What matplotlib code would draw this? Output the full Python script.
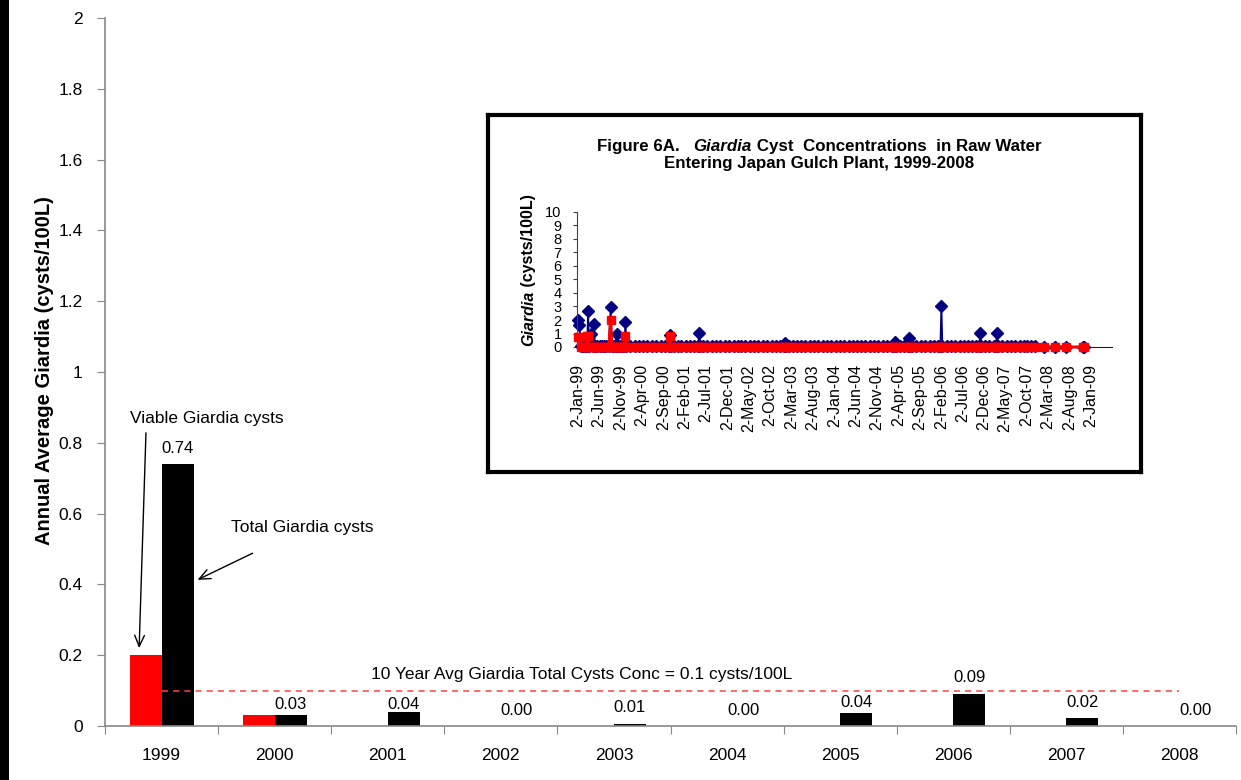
import matplotlib
matplotlib.use('Agg')
import matplotlib.pyplot as plt
import numpy as np
import pandas as pd
from matplotlib.patches import Rectangle

plt.rcParams['font.family'] = ['Liberation Sans', 'DejaVu Sans']

# ---------------- main chart data ----------------
years = ['1999', '2000', '2001', '2002', '2003', '2004', '2005', '2006', '2007', '2008']
viable = [0.20, 0.03, 0.0, 0.0, 0.0, 0.0, 0.0, 0.0, 0.0, 0.0]
total = [0.74, 0.03, 0.04, 0.0, 0.005, 0.0, 0.036, 0.09, 0.022, 0.0]
total_labels = ['0.74', '0.03', '0.04', '0.00', '0.01', '0.00', '0.04', '0.09', '0.02', '0.00']
avg_total = 0.1
y_ticks = [0, 0.2, 0.4, 0.6, 0.8, 1.0, 1.2, 1.4, 1.6, 1.8, 2.0]
y_tick_labels = ['0', '0.2', '0.4', '0.6', '0.8', '1', '1.2', '1.4', '1.6', '1.8', '2']

# ---------------- inset data (Figure 6A) ----------------
inset_dates = [
    # 1999
    '1999-01-04', '1999-01-11', '1999-01-25', '1999-02-08', '1999-02-22', '1999-03-08',
    '1999-03-15', '1999-03-22', '1999-04-05', '1999-04-19', '1999-04-26', '1999-05-03',
    '1999-05-17', '1999-06-07', '1999-06-21', '1999-07-05', '1999-07-19', '1999-08-09',
    '1999-08-23', '1999-08-30', '1999-09-13', '1999-09-27', '1999-10-04', '1999-10-11',
    '1999-10-25', '1999-11-08', '1999-11-22', '1999-11-29', '1999-12-06', '1999-12-13',
    # 2000
    '2000-01-10', '2000-02-14', '2000-03-13', '2000-04-10', '2000-05-08', '2000-06-12',
    '2000-07-10', '2000-08-14', '2000-09-11', '2000-10-09', '2000-10-16', '2000-10-23',
    '2000-11-13', '2000-12-11',
    # 2001
    '2001-01-08', '2001-02-12', '2001-03-12', '2001-04-09', '2001-05-07', '2001-05-14',
    '2001-05-21', '2001-06-11', '2001-07-09', '2001-08-13', '2001-09-10', '2001-10-08',
    '2001-11-12', '2001-12-10',
    # 2002
    '2002-01-14', '2002-02-11', '2002-03-11', '2002-04-08', '2002-05-13', '2002-06-10',
    '2002-07-08', '2002-08-12', '2002-09-09', '2002-10-14', '2002-11-11', '2002-12-09',
    # 2003
    '2003-01-06', '2003-01-13', '2003-01-20', '2003-02-10', '2003-03-10', '2003-04-14',
    '2003-05-12', '2003-06-09', '2003-07-14', '2003-08-11', '2003-09-08', '2003-10-13',
    '2003-11-10', '2003-12-08',
    # 2004
    '2004-01-12', '2004-02-09', '2004-03-08', '2004-04-12', '2004-05-10', '2004-06-14',
    '2004-07-12', '2004-08-09', '2004-09-13', '2004-10-11', '2004-11-08', '2004-12-13',
    # 2005
    '2005-01-10', '2005-02-14', '2005-02-28', '2005-03-07', '2005-03-14', '2005-04-11',
    '2005-05-09', '2005-06-06', '2005-06-13', '2005-06-20', '2005-07-11', '2005-08-08',
    '2005-09-12', '2005-10-10', '2005-11-14', '2005-12-12',
    # 2006
    '2006-01-09', '2006-01-26', '2006-02-02', '2006-02-09', '2006-03-13', '2006-04-10',
    '2006-05-08', '2006-06-12', '2006-07-10', '2006-08-14', '2006-09-11', '2006-10-09',
    '2006-10-30', '2006-11-06', '2006-11-13', '2006-12-11',
    # 2007
    '2007-01-08', '2007-02-12', '2007-02-26', '2007-03-05', '2007-03-12', '2007-04-09',
    '2007-05-14', '2007-06-11', '2007-07-09', '2007-08-13', '2007-09-10', '2007-10-08',
    '2007-11-05', '2007-12-03',
    # 2008
    '2008-02-04', '2008-04-21', '2008-07-07', '2008-11-03', '2008-11-17',
]
inset_total = [
    # 1999
    2.0, 1.6, 0.1, 0.1, 0.1, 0.1,
    2.65, 0.1, 1.0, 0.1, 1.7, 0.1,
    0.1, 0.1, 0.1, 0.1, 0.1, 0.1,
    2.95, 0.1, 0.1, 0.1, 1.0, 0.1,
    0.1, 0.1, 0.1, 0.1, 1.85, 0.1,
    # 2000
    0.1, 0.1, 0.1, 0.1, 0.1, 0.1,
    0.1, 0.1, 0.1, 0.1, 0.9, 0.1,
    0.1, 0.1,
    # 2001
    0.1, 0.1, 0.1, 0.1, 0.1, 1.05,
    0.1, 0.1, 0.1, 0.1, 0.1, 0.1,
    0.1, 0.1,
    # 2002
    0.1, 0.1, 0.1, 0.1, 0.1, 0.1,
    0.1, 0.1, 0.1, 0.1, 0.1, 0.1,
    # 2003
    0.1, 0.3, 0.1, 0.1, 0.1, 0.1,
    0.1, 0.1, 0.1, 0.1, 0.1, 0.1,
    0.1, 0.1,
    # 2004
    0.1, 0.1, 0.1, 0.1, 0.1, 0.1,
    0.1, 0.1, 0.1, 0.1, 0.1, 0.1,
    # 2005
    0.1, 0.1, 0.1, 0.35, 0.1, 0.1,
    0.1, 0.1, 0.7, 0.1, 0.1, 0.1,
    0.1, 0.1, 0.1, 0.1,
    # 2006
    0.1, 0.1, 3.05, 0.1, 0.1, 0.1,
    0.1, 0.1, 0.1, 0.1, 0.1, 0.1,
    0.1, 1.05, 0.1, 0.1,
    # 2007
    0.1, 0.1, 0.1, 1.05, 0.1, 0.1,
    0.1, 0.1, 0.1, 0.1, 0.1, 0.1,
    0.1, 0.1,
    # 2008
    0.0, 0.0, 0.0, 0.0, 0.0,
]
inset_viable = [
    # 1999
    0.75, 0.75, 0, 0, 0, 0.8,
    0.8, 0, 0, 0, 0, 0,
    0, 0, 0, 0, 0, 0,
    2.0, 0, 0, 0, 0, 0,
    0, 0, 0, 0, 0.85, 0,
    # 2000
    0, 0, 0, 0, 0, 0,
    0, 0, 0, 0, 0.85, 0,
    0, 0,
    # 2001
    0, 0, 0, 0, 0, 0,
    0, 0, 0, 0, 0, 0,
    0, 0,
    # 2002
    0, 0, 0, 0, 0, 0,
    0, 0, 0, 0, 0, 0,
    # 2003
    0, 0, 0, 0, 0, 0,
    0, 0, 0, 0, 0, 0,
    0, 0,
    # 2004
    0, 0, 0, 0, 0, 0,
    0, 0, 0, 0, 0, 0,
    # 2005
    0, 0, 0, 0, 0, 0,
    0, 0, 0, 0, 0, 0,
    0, 0, 0, 0,
    # 2006
    0, 0, 0, 0, 0, 0,
    0, 0, 0, 0, 0, 0,
    0, 0, 0, 0,
    # 2007
    0, 0, 0, 0, 0, 0,
    0, 0, 0, 0, 0, 0,
    0, 0,
    # 2008
    0, 0, 0, 0, 0,
]
inset_tick_labels = ['2-Jan-99', '2-Jun-99', '2-Nov-99', '2-Apr-00', '2-Sep-00', '2-Feb-01',
                     '2-Jul-01', '2-Dec-01', '2-May-02', '2-Oct-02', '2-Mar-03', '2-Aug-03',
                     '2-Jan-04', '2-Jun-04', '2-Nov-04', '2-Apr-05', '2-Sep-05', '2-Feb-06',
                     '2-Jul-06', '2-Dec-06', '2-May-07', '2-Oct-07', '2-Mar-08', '2-Aug-08',
                     '2-Jan-09']
inset_yticks = [0, 1, 2, 3, 4, 5, 6, 7, 8, 9, 10]

# ---------------- figure ----------------
W, H = 1241, 780
fig = plt.figure(figsize=(W / 100, H / 100), dpi=100)
fig.patch.set_facecolor('white')

# left page border
fig.add_artist(Rectangle((0, 0), 9 / W, 1, transform=fig.transFigure,
                         facecolor='black', edgecolor='none'))

ax = fig.add_axes([105 / W, 1 - 726 / H, (1236 - 105) / W, (726 - 18) / H])
x = np.arange(len(years))
bw = 0.283
ax.bar(x - bw / 2, viable, bw, color='#FF0000', edgecolor='none', zorder=2)
ax.bar(x + bw / 2, total, bw, color='#000000', edgecolor='none', zorder=2)
# data-label offsets above bar tops (points), as placed in the original
label_offsets = [11.5, 8, 5, 11.5, 12, 11.5, 8, 12, 11, 11.5]
for xi, v, lab, off in zip(x, total, total_labels, label_offsets):
    ax.annotate(lab, (xi + bw / 2, v), xytext=(0, off), textcoords='offset points',
                ha='center', va='center', fontsize=12)
ax.plot([x[0], x[-1]], [avg_total, avg_total], color='#FF4040', lw=1.1,
        ls=(0, (4, 3.3)), zorder=3)
ax.text(1.85, 0.145, '10 Year Avg Giardia Total Cysts Conc = 0.1 cysts/100L',
        ha='left', va='center', fontsize=12.5)

ax.set_xlim(-0.5, len(years) - 0.5)
ax.set_ylim(0, 2)
ax.set_yticks(y_ticks)
ax.set_yticklabels(y_tick_labels, fontsize=12.5)
ax.set_xticks(np.arange(len(years) + 1) - 0.5)
ax.set_xticklabels([])
ax.set_xticks(x, minor=True)
ax.set_xticklabels(years, minor=True, fontsize=12.5)
ax.tick_params(axis='x', which='minor', length=0, pad=16)
ax.tick_params(axis='x', which='major', length=6, color='#888888', direction='out')
ax.tick_params(axis='y', length=6, color='#888888', direction='out', pad=10)
for s in ['top', 'right']:
    ax.spines[s].set_visible(False)
for s in ['left', 'bottom']:
    ax.spines[s].set_color('#888888')
    ax.spines[s].set_linewidth(1.2)

fig.text(45 / W, 1 - 371 / H, 'Annual Average Giardia (cysts/100L)', rotation=90,
         ha='center', va='center', fontsize=14.5, fontweight='bold')

# annotations
ax.annotate('', xy=(-0.199, 0.212), xytext=(-0.137, 0.836),
            arrowprops=dict(arrowstyle='->,head_length=0.8,head_width=0.35', color='black', lw=1))
ax.text(-0.279, 0.870, 'Viable Giardia cysts', ha='left', va='center', fontsize=12.5)
ax.annotate('', xy=(0.296, 0.4096), xytext=(0.827, 0.4915),
            arrowprops=dict(arrowstyle='->,head_length=0.8,head_width=0.35', color='black', lw=1))
ax.text(0.615, 0.562, 'Total Giardia cysts', ha='left', va='center', fontsize=12.5)

# ---------------- inset ----------------
box = fig.add_axes([488 / W, 1 - 472 / H, 653 / W, 357 / H])
box.set_xticks([])
box.set_yticks([])
box.set_facecolor('white')
for s in box.spines.values():
    s.set_linewidth(3)
    s.set_color('black')

ins = fig.add_axes([577 / W, 1 - 347 / H, 535 / W, 135 / H])
ins.patch.set_alpha(0)
d = pd.to_datetime(inset_dates)
ins.plot(d, inset_total, color='#000080', lw=1.3, marker='D', ms=6,
         mfc='#000080', mec='#000080', zorder=2, clip_on=False)
ins.plot(d, inset_viable, color='#FF0000', lw=2.2, marker='s', ms=5.8,
         mfc='#FF0000', mec='#FF0000', zorder=3, clip_on=False)
tick_dates = pd.to_datetime(inset_tick_labels, format='%d-%b-%y')
ins.set_xticks(tick_dates)
ins.set_xticklabels(inset_tick_labels, rotation=90, fontsize=11.5)
ins.set_xlim(pd.Timestamp('1998-12-26'), pd.Timestamp('2009-06-01'))
ins.set_ylim(0, 10)
ins.set_yticks(inset_yticks)
ins.set_yticklabels([str(v) for v in inset_yticks], fontsize=10.5)
ins.tick_params(axis='x', length=0, pad=12.5)
ins.tick_params(axis='y', length=3, pad=8, color='#404040')
for s in ['top', 'right']:
    ins.spines[s].set_visible(False)
ins.spines['left'].set_color('#404040')
ins.spines['bottom'].set_color('#202020')

renderer = fig.canvas.get_renderer()


def mixed_line(pieces, xc_px, ybase_px, size):
    ts = []
    for s, kw in pieces:
        t = fig.text(0, 0, s, fontsize=size, ha='left', va='baseline', **kw)
        ts.append(t)
    ws = [t.get_window_extent(renderer).width for t in ts]
    xx = xc_px - sum(ws) / 2
    for t, w in zip(ts, ws):
        t.set_position((xx / W, 1 - ybase_px / H))
        xx += w


def mixed_vertical(pieces, xbase_px, yc_px, size):
    ts = []
    for s, kw in pieces:
        t = fig.text(0, 0, s, fontsize=size, ha='left', va='baseline', rotation=90,
                     rotation_mode='anchor', **kw)
        ts.append(t)
    hs = [t.get_window_extent(renderer).height for t in ts]
    yy = (H - yc_px) - sum(hs) / 2
    for t, h in zip(ts, hs):
        t.set_position((xbase_px / W, yy / H))
        yy += h


B = dict(fontweight='bold')
BI = dict(fontweight='bold', style='italic')
mixed_line([('Figure 6A.   ', B), ('Giardia', BI), (' Cyst  Concentrations  in Raw Water', B)],
           819, 151, 12.2)
mixed_line([('Entering Japan Gulch Plant, 1999-2008', B)], 819, 168, 12.2)
mixed_vertical([('Giardia', BI), (' (cysts/100L)', B)], 533, 270, 11.5)

fig.savefig('out.png', dpi=100, facecolor='white')
